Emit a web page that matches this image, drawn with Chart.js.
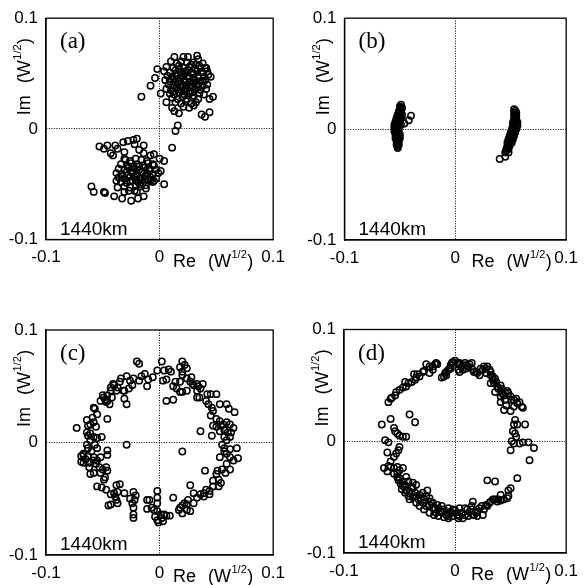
<!DOCTYPE html>
<html>
<head>
<meta charset="utf-8">
<script src="https://cdn.jsdelivr.net/npm/chart.js@4.4.0/dist/chart.umd.min.js"></script>
<style>
  html, body { margin: 0; padding: 0; background: #fff; }
  #wrap { position: relative; width: 586px; height: 585px; overflow: hidden; }
  canvas { position: absolute; }
</style>
</head>
<body>
<div id="wrap">
  <canvas id="pa" width="293" height="292" style="left:0;top:0"></canvas>
  <canvas id="pb" width="293" height="292" style="left:293px;top:0"></canvas>
  <canvas id="pc" width="293" height="293" style="left:0;top:292px"></canvas>
  <canvas id="pd" width="293" height="293" style="left:293px;top:292px"></canvas>
</div>
<script>
// axis ticks (both axes, all panels)
const tickValues = [-0.1, 0, 0.1];
const tickLabels = ["-0.1", "0", "0.1"];
const panelTags = ["(a)", "(b)", "(c)", "(d)"];
const distanceNote = "1440km";

// constellation points [Re, Im] in W^1/2
const panelA = [
  [-0.016, 0.029], [-0.008, 0.039], [-0.004, 0.046], [-0.002, 0.054], [0.001, 0.032], [0.006, 0.024],
  [0.011, 0.019], [0.013, 0.016], [0.017, 0.014], [0.037, 0.013], [0.040, 0.011], [0.044, 0.015],
  [0.047, 0.029], [0.044, 0.027], [0.016, 0.003], [0.014, -0.002], [0.011, -0.017], [0.041, 0.055],
  [0.036, 0.055], [0.045, 0.047], [0.013, 0.065], [0.021, 0.065], [0.025, 0.065], [0.033, 0.066],
  [0.034, 0.063], [0.030, 0.060],
  [0.010, 0.061], [0.015, 0.059], [0.019, 0.061], [0.024, 0.060], [0.028, 0.058], [0.038, 0.059],
  [0.006, 0.056], [0.012, 0.055], [0.017, 0.057], [0.021, 0.055], [0.026, 0.056], [0.031, 0.054], [0.035, 0.057], [0.040, 0.055],
  [0.004, 0.052], [0.009, 0.051], [0.014, 0.053], [0.019, 0.051], [0.023, 0.052], [0.028, 0.050], [0.033, 0.052], [0.037, 0.051], [0.042, 0.052],
  [0.007, 0.048], [0.011, 0.047], [0.016, 0.049], [0.020, 0.047], [0.025, 0.048], [0.030, 0.046], [0.034, 0.048], [0.039, 0.047], [0.043, 0.049],
  [0.005, 0.044], [0.009, 0.043], [0.013, 0.045], [0.018, 0.043], [0.022, 0.044], [0.027, 0.042], [0.031, 0.044], [0.036, 0.043], [0.040, 0.044],
  [0.008, 0.040], [0.012, 0.039], [0.016, 0.041], [0.020, 0.039], [0.024, 0.040], [0.029, 0.038], [0.033, 0.040], [0.038, 0.039], [0.042, 0.040],
  [0.006, 0.036], [0.010, 0.035], [0.015, 0.037], [0.019, 0.035], [0.023, 0.036], [0.027, 0.034], [0.032, 0.036], [0.036, 0.035], [0.041, 0.036],
  [0.009, 0.032], [0.013, 0.031], [0.017, 0.033], [0.022, 0.031], [0.026, 0.032], [0.030, 0.030], [0.035, 0.032], [0.039, 0.031],
  [0.011, 0.028], [0.016, 0.027], [0.020, 0.029], [0.024, 0.027], [0.029, 0.028], [0.034, 0.027],
  [0.014, 0.024], [0.019, 0.023], [0.023, 0.025], [0.028, 0.023], [0.032, 0.024],
  [0.021, 0.020], [0.026, 0.019], [0.030, 0.021],
  [0.014, 0.050], [0.018, 0.046], [0.022, 0.050], [0.026, 0.046], [0.030, 0.050], [0.014, 0.042], [0.018, 0.038],
  [0.022, 0.042], [0.026, 0.038], [0.030, 0.042], [0.034, 0.046], [0.034, 0.038], [0.017, 0.054], [0.025, 0.053],
  [0.021, 0.034], [0.029, 0.033], [0.012, 0.034], [0.010, 0.045], [0.038, 0.043], [0.032, 0.058],
  // lower cluster
  [-0.053, -0.016], [-0.049, -0.018], [-0.046, -0.015], [-0.039, -0.015], [-0.032, -0.012], [-0.028, -0.011],
  [-0.023, -0.010], [-0.020, -0.009], [-0.022, -0.014], [-0.014, -0.015], [-0.018, -0.019], [-0.031, -0.021],
  [-0.037, -0.018], [-0.043, -0.022], [-0.041, -0.024], [-0.031, -0.027], [-0.014, -0.022], [-0.008, -0.024],
  [-0.005, -0.023], [0.000, -0.027], [0.004, -0.029], [-0.006, -0.032], [0.001, -0.038], [0.004, -0.050],
  [-0.005, -0.047], [-0.060, -0.052], [-0.058, -0.057], [-0.049, -0.057], [-0.048, -0.058], [-0.040, -0.061],
  [-0.033, -0.063], [-0.025, -0.065], [-0.019, -0.063], [-0.014, -0.061], [-0.012, -0.054], [-0.022, -0.056],
  [-0.031, -0.057], [-0.037, -0.053], [-0.038, -0.047],
  [-0.030, -0.028], [-0.026, -0.029], [-0.021, -0.027], [-0.016, -0.028], [-0.011, -0.029],
  [-0.034, -0.032], [-0.029, -0.033], [-0.025, -0.031], [-0.020, -0.032], [-0.015, -0.033], [-0.010, -0.031], [-0.005, -0.033],
  [-0.036, -0.036], [-0.031, -0.037], [-0.027, -0.035], [-0.022, -0.036], [-0.018, -0.037], [-0.013, -0.035], [-0.009, -0.036], [-0.003, -0.037],
  [-0.038, -0.040], [-0.033, -0.041], [-0.029, -0.039], [-0.024, -0.040], [-0.020, -0.041], [-0.015, -0.039], [-0.011, -0.040], [-0.006, -0.041], [-0.001, -0.040],
  [-0.036, -0.044], [-0.031, -0.045], [-0.026, -0.043], [-0.022, -0.044], [-0.017, -0.045], [-0.013, -0.043], [-0.008, -0.044], [-0.003, -0.045],
  [-0.034, -0.048], [-0.029, -0.049], [-0.024, -0.047], [-0.019, -0.048], [-0.015, -0.049], [-0.010, -0.047], [-0.006, -0.048],
  [-0.031, -0.052], [-0.026, -0.053], [-0.021, -0.051], [-0.017, -0.052], [-0.012, -0.051],
  [-0.027, -0.056], [-0.020, -0.057],
  [-0.028, -0.042], [-0.024, -0.038], [-0.020, -0.043], [-0.016, -0.039], [-0.012, -0.042], [-0.028, -0.034],
  [-0.023, -0.034], [-0.018, -0.034], [-0.026, -0.047], [-0.021, -0.046], [-0.017, -0.050], [-0.013, -0.046],
  [-0.033, -0.043], [-0.009, -0.038], [-0.008, -0.046]
];

const panelB = [
  [-0.049, 0.022], [-0.050, 0.019], [-0.048, 0.019], [-0.051, 0.016], [-0.049, 0.016],
  [-0.052, 0.013], [-0.050, 0.013], [-0.048, 0.013], [-0.053, 0.010], [-0.051, 0.010], [-0.049, 0.010],
  [-0.054, 0.007], [-0.052, 0.007], [-0.050, 0.007], [-0.055, 0.004], [-0.053, 0.004], [-0.051, 0.004], [-0.049, 0.004],
  [-0.055, 0.001], [-0.053, 0.001], [-0.051, 0.001], [-0.055, -0.002], [-0.053, -0.002], [-0.051, -0.002],
  [-0.054, -0.005], [-0.052, -0.005], [-0.050, -0.005], [-0.054, -0.008], [-0.052, -0.008], [-0.050, -0.008],
  [-0.053, -0.011], [-0.051, -0.011], [-0.053, -0.014], [-0.051, -0.014], [-0.052, -0.017],
  [-0.050, 0.0205], [-0.049, 0.0175], [-0.051, 0.0145], [-0.049, 0.0115], [-0.052, 0.0115], [-0.050, 0.0085],
  [-0.053, 0.0085], [-0.052, 0.0055], [-0.054, 0.0025], [-0.052, 0.0025], [-0.054, -0.0005], [-0.052, -0.0005],
  [-0.054, -0.0035], [-0.052, -0.0035], [-0.053, -0.0065], [-0.051, -0.0065], [-0.052, -0.0095], [-0.052, -0.0125],
  [-0.052, -0.0155],
  [-0.040, 0.012], [-0.042, 0.008], [-0.046, 0.005],
  [0.053, 0.018], [0.053, 0.015], [0.055, 0.015], [0.053, 0.012], [0.055, 0.012], [0.053, 0.009], [0.055, 0.009],
  [0.052, 0.006], [0.054, 0.006], [0.056, 0.006], [0.052, 0.003], [0.054, 0.003], [0.056, 0.003],
  [0.051, 0.000], [0.053, 0.000], [0.055, 0.000], [0.050, -0.003], [0.052, -0.003], [0.054, -0.003],
  [0.049, -0.006], [0.051, -0.006], [0.053, -0.006], [0.048, -0.009], [0.050, -0.009], [0.052, -0.009],
  [0.047, -0.012], [0.049, -0.012], [0.051, -0.012], [0.047, -0.015], [0.049, -0.015],
  [0.046, -0.018], [0.048, -0.018], [0.045, -0.021], [0.048, -0.021], [0.045, -0.025], [0.040, -0.027],
  [0.054, 0.0165], [0.054, 0.0135], [0.054, 0.0105], [0.053, 0.0075], [0.055, 0.0075], [0.053, 0.0045],
  [0.055, 0.0045], [0.052, 0.0015], [0.054, 0.0015], [0.051, -0.0015], [0.053, -0.0015], [0.050, -0.0045],
  [0.052, -0.0045], [0.049, -0.0075], [0.051, -0.0075], [0.048, -0.0105], [0.050, -0.0105], [0.048, -0.0135],
  [0.047, -0.0165], [0.046, -0.0195]
];

const panelC = [
  [0.002, 0.072], [-0.020, 0.072], [-0.018, 0.070], [-0.002, 0.064], [0.004, 0.064], [0.008, 0.065], [0.010, 0.063],
  [0.003, 0.055], [0.006, 0.056], [-0.006, 0.058], [-0.010, 0.056], [-0.013, 0.061], [-0.016, 0.059], [-0.018, 0.055],
  [-0.023, 0.057], [-0.026, 0.055], [-0.029, 0.059], [-0.024, 0.051], [-0.027, 0.048], [-0.034, 0.057], [-0.035, 0.054],
  [-0.037, 0.049], [-0.040, 0.051], [-0.041, 0.052], [-0.043, 0.049], [-0.043, 0.046], [-0.038, 0.046], [-0.032, 0.046],
  [-0.031, 0.046], [-0.046, 0.037], [-0.048, 0.038], [-0.047, 0.036], [-0.044, 0.034], [-0.046, 0.042], [-0.042, 0.040],
  [-0.031, 0.039], [-0.029, 0.034], [-0.011, 0.050], [0.006, 0.037], [0.012, 0.038],
  [0.020, 0.072], [0.022, 0.069], [0.018, 0.067], [0.024, 0.066], [0.020, 0.063], [0.020, 0.060], [0.024, 0.057],
  [0.028, 0.058], [0.027, 0.054], [0.029, 0.052], [0.030, 0.051], [0.033, 0.052], [0.034, 0.050], [0.036, 0.048],
  [0.038, 0.052], [0.033, 0.046], [0.033, 0.040], [0.035, 0.040], [0.012, 0.050], [0.015, 0.048], [0.018, 0.045],
  [0.020, 0.045], [0.024, 0.046], [0.014, 0.054], [0.018, 0.054],
  [0.042, 0.043], [0.045, 0.043], [0.050, 0.043], [0.041, 0.037], [0.043, 0.034], [0.046, 0.031], [0.047, 0.028],
  [0.053, 0.034], [0.059, 0.034], [0.061, 0.030], [0.066, 0.027], [0.045, 0.024], [0.050, 0.021], [0.053, 0.019],
  [0.054, 0.015], [0.056, 0.016], [0.059, 0.018], [0.062, 0.016], [0.065, 0.013], [0.047, 0.015], [0.050, 0.014],
  [0.053, 0.010], [0.060, 0.009], [0.063, 0.009], [0.057, 0.011], [0.036, 0.010], [0.046, 0.006], [0.057, 0.005],
  [0.062, 0.005], [0.059, 0.002], [0.055, -0.002], [0.057, -0.005], [0.057, -0.008], [0.062, -0.006], [0.068, -0.005],
  [0.069, -0.014], [0.059, -0.010], [0.053, -0.013], [0.062, -0.013], [0.059, -0.019], [0.065, -0.016], [0.062, -0.024],
  [0.058, -0.027], [0.055, -0.024], [0.051, -0.025], [0.050, -0.028], [0.052, -0.033], [0.054, -0.036], [0.047, -0.034],
  [0.047, -0.039], [0.052, -0.039], [0.040, -0.025], [0.020, -0.008],
  [0.044, -0.043], [0.041, -0.042], [0.039, -0.045], [0.039, -0.048], [0.044, -0.046], [0.036, -0.046], [0.030, -0.045],
  [0.027, -0.038], [0.033, -0.049], [0.030, -0.054], [0.025, -0.051], [0.024, -0.055], [0.022, -0.054], [0.020, -0.056],
  [0.018, -0.058], [0.017, -0.060], [0.024, -0.060], [0.020, -0.063], [0.027, -0.061], [0.012, -0.049], [0.009, -0.065],
  [0.006, -0.065], [0.004, -0.064], [0.002, -0.067], [0.001, -0.064], [-0.002, -0.061], [-0.005, -0.060], [-0.004, -0.066],
  [-0.002, -0.069], [0.003, -0.070], [-0.001, -0.071], [-0.007, -0.058], [-0.009, -0.051], [-0.011, -0.051], [-0.011, -0.059],
  [-0.002, -0.054], [-0.002, -0.043], [-0.002, -0.049],
  [-0.023, -0.044], [-0.021, -0.047], [-0.022, -0.051], [-0.026, -0.050], [-0.024, -0.054], [-0.023, -0.058], [-0.023, -0.064],
  [-0.023, -0.067], [-0.031, -0.045], [-0.035, -0.037], [-0.038, -0.038], [-0.037, -0.044], [-0.040, -0.045], [-0.039, -0.048],
  [-0.038, -0.051], [-0.043, -0.055], [-0.045, -0.056], [-0.037, -0.054], [-0.043, -0.046], [-0.047, -0.042], [-0.051, -0.040],
  [-0.049, -0.033], [-0.055, -0.039], [-0.052, -0.027], [-0.050, -0.024], [-0.047, -0.022], [-0.046, -0.025], [-0.048, -0.031],
  [-0.058, -0.027], [-0.061, -0.028], [-0.062, -0.022], [-0.067, -0.018], [-0.069, -0.017], [-0.065, -0.015], [-0.063, -0.012],
  [-0.067, -0.011], [-0.058, -0.016], [-0.055, -0.016], [-0.052, -0.013], [-0.056, -0.019], [-0.053, -0.022], [-0.058, -0.013],
  [-0.046, -0.007], [-0.046, -0.011],
  [-0.073, 0.013], [-0.064, 0.020], [-0.063, 0.015], [-0.061, 0.016], [-0.058, 0.018], [-0.059, 0.022], [-0.056, 0.014],
  [-0.064, 0.009], [-0.063, 0.006], [-0.061, 0.008], [-0.058, 0.005], [-0.055, 0.004], [-0.051, 0.005], [-0.061, 0.002],
  [-0.064, -0.002], [-0.057, -0.002], [-0.055, -0.005], [-0.063, -0.005], [-0.060, -0.008], [-0.067, -0.010], [-0.069, -0.012],
  [-0.062, -0.018], [-0.029, -0.002], [-0.046, 0.021], [-0.055, 0.025], [-0.057, 0.030], [-0.058, 0.031], [-0.052, 0.037],
  [-0.049, 0.040], [-0.050, 0.042]
];

const panelD = [
  [-0.060, 0.035], [-0.058, 0.038], [-0.057, 0.039], [-0.054, 0.041], [-0.053, 0.044], [-0.050, 0.046], [-0.047, 0.048],
  [-0.044, 0.049], [-0.045, 0.053], [-0.042, 0.052], [-0.039, 0.053], [-0.036, 0.055], [-0.035, 0.057], [-0.037, 0.060],
  [-0.034, 0.060], [-0.032, 0.058], [-0.029, 0.062], [-0.028, 0.063], [-0.026, 0.069], [-0.023, 0.061], [-0.023, 0.067],
  [-0.020, 0.067], [-0.018, 0.069], [-0.017, 0.070], [-0.016, 0.069], [-0.020, 0.064],
  [-0.010, 0.058], [-0.009, 0.061], [-0.008, 0.062], [-0.006, 0.064], [-0.005, 0.065], [-0.004, 0.068], [-0.003, 0.070],
  [-0.002, 0.071], [0.000, 0.072], [0.002, 0.070], [0.003, 0.069], [0.004, 0.070], [0.006, 0.067], [0.007, 0.068],
  [0.009, 0.070], [0.010, 0.068], [0.012, 0.067], [0.013, 0.069], [0.015, 0.070], [0.016, 0.064], [0.017, 0.062],
  [0.019, 0.062], [0.020, 0.061], [0.022, 0.059], [0.023, 0.065], [0.025, 0.064], [0.026, 0.067], [0.028, 0.065],
  [0.029, 0.067], [0.031, 0.064], [0.032, 0.062], [0.032, 0.059], [0.034, 0.058], [0.034, 0.055], [0.035, 0.052],
  [0.036, 0.056], [0.038, 0.049], [0.039, 0.047], [0.041, 0.050], [0.042, 0.043], [0.044, 0.041], [0.045, 0.044],
  [0.047, 0.045], [0.048, 0.043], [0.050, 0.040], [0.051, 0.037], [0.053, 0.037], [0.055, 0.038], [0.056, 0.034],
  [0.058, 0.035], [0.060, 0.031], [0.061, 0.030], [0.046, 0.032], [0.044, 0.028], [0.050, 0.027], [0.053, 0.031],
  [0.041, 0.035], [0.041, 0.040], [0.045, 0.037], [0.036, 0.044], [0.042, 0.047], [0.037, 0.053], [0.032, 0.052],
  [0.028, 0.061], [0.003, 0.064], [0.004, 0.062], [-0.004, 0.065], [0.007, 0.064], [-0.012, 0.057], [-0.008, 0.059],
  [0.010, 0.065],
  [0.054, 0.019], [0.053, 0.015], [0.052, 0.009], [0.054, 0.007], [0.055, 0.004], [0.056, 0.015], [0.063, 0.015],
  [0.051, 0.000], [0.053, -0.002], [0.050, -0.008], [0.058, -0.002], [0.061, -0.001], [0.066, -0.001], [0.071, -0.006],
  [0.067, -0.017], [0.056, -0.033], [0.048, -0.044], [0.050, -0.042], [0.041, -0.048], [0.038, -0.054], [0.029, -0.035],
  [0.036, -0.036],
  [-0.066, 0.015], [-0.058, 0.020], [-0.041, 0.024], [-0.036, 0.017], [-0.044, 0.004], [-0.055, 0.012], [-0.054, 0.009],
  [-0.052, 0.007], [-0.050, 0.005], [-0.047, 0.004], [-0.063, 0.001], [-0.060, -0.001], [-0.050, -0.005], [-0.051, -0.008],
  [-0.053, -0.011], [-0.061, -0.010], [-0.055, -0.014], [-0.058, -0.018], [-0.060, -0.022], [-0.064, -0.024], [-0.061, -0.027],
  [-0.058, -0.023], [-0.055, -0.024], [-0.052, -0.023], [-0.050, -0.026], [-0.047, -0.024],
  [-0.055, -0.029], [-0.052, -0.032], [-0.051, -0.035], [-0.050, -0.033], [-0.047, -0.036], [-0.049, -0.038], [-0.045, -0.039],
  [-0.042, -0.036], [-0.044, -0.044], [-0.045, -0.046], [-0.041, -0.045], [-0.039, -0.041], [-0.038, -0.042], [-0.036, -0.046],
  [-0.035, -0.049], [-0.033, -0.052], [-0.032, -0.048], [-0.031, -0.051], [-0.028, -0.052], [-0.025, -0.044], [-0.029, -0.055],
  [-0.026, -0.058], [-0.023, -0.057], [-0.022, -0.054], [-0.020, -0.060], [-0.018, -0.061], [-0.017, -0.064], [-0.015, -0.060],
  [-0.013, -0.063], [-0.012, -0.064], [-0.010, -0.061], [-0.008, -0.066], [-0.006, -0.067], [-0.004, -0.063], [-0.003, -0.064],
  [-0.002, -0.067], [0.000, -0.062], [0.002, -0.066], [0.004, -0.067], [0.006, -0.064], [0.009, -0.066], [0.011, -0.061],
  [0.013, -0.063], [0.015, -0.061], [0.016, -0.054], [0.017, -0.066], [0.019, -0.064], [0.020, -0.063], [0.022, -0.060],
  [0.024, -0.058], [0.026, -0.061], [0.028, -0.057], [0.029, -0.058], [0.031, -0.055], [0.032, -0.054], [0.034, -0.052],
  [0.035, -0.052], [0.037, -0.052], [0.039, -0.052], [0.041, -0.053], [0.044, -0.052], [0.047, -0.051], [0.048, -0.049],
  [0.020, -0.067], [-0.041, -0.052], [-0.035, -0.055], [-0.032, -0.058], [-0.028, -0.061], [-0.023, -0.064], [-0.019, -0.066],
  [-0.015, -0.067], [-0.010, -0.068], [-0.006, -0.069], [0.003, -0.069], [0.007, -0.069], [0.012, -0.067], [0.016, -0.066],
  [0.025, -0.066], [-0.038, -0.050], [-0.042, -0.049], [-0.047, -0.040], [-0.048, -0.043], [-0.044, -0.032], [-0.052, -0.029],
  [-0.038, -0.037], [-0.035, -0.039], [-0.029, -0.046], [-0.026, -0.049], [-0.023, -0.051], [-0.020, -0.055], [-0.016, -0.057],
  [-0.012, -0.058], [-0.006, -0.060], [-0.002, -0.061], [0.004, -0.060], [0.009, -0.060], [0.015, -0.058]
];

// where each panel's plot frame sits inside its canvas
const panels = [
  { id: "pa", points: panelA, tag: panelTags[0], pad: { top: 13, right: 19 }, yWidth: 46, xHeight: 52.5 },
  { id: "pb", points: panelB, tag: panelTags[1], pad: { top: 14.5, right: 14.5 }, yWidth: 51.5, xHeight: 52 },
  { id: "pc", points: panelC, tag: panelTags[2], pad: { top: 38, right: 19 }, yWidth: 46, xHeight: 30 },
  { id: "pd", points: panelD, tag: panelTags[3], pad: { top: 37.5, right: 15 }, yWidth: 51, xHeight: 32 },
];

const SANS = '"Liberation Sans", Arial, Helvetica, sans-serif';
Chart.defaults.font.family = SANS;
Chart.defaults.color = "#000";

// "Re  (W^1/2)" style label starting at x, baseline y
function drawUnitLabel(ctx, name, x, y) {
  ctx.font = "18px " + SANS;
  ctx.fillText(name, x, y);
  x += ctx.measureText(name).width + 12;
  ctx.fillText("(W", x, y);
  x += ctx.measureText("(W").width + 0.5;
  ctx.font = "11px " + SANS;
  ctx.fillText("1/2", x, y - 9);
  x += ctx.measureText("1/2").width + 0.5;
  ctx.font = "18px " + SANS;
  ctx.fillText(")", x, y);
}

const panelDecor = {
  id: "panelDecor",
  afterDraw(chart, args, opts) {
    const { ctx, chartArea: a } = chart;
    ctx.save();
    ctx.strokeStyle = "#000";
    ctx.lineWidth = 1.3;
    ctx.strokeRect(a.left, a.top, a.right - a.left, a.bottom - a.top);

    ctx.fillStyle = "#000";
    ctx.textAlign = "left";
    ctx.textBaseline = "alphabetic";
    ctx.font = '23px "Liberation Serif", "Times New Roman", serif';
    ctx.fillText(opts.tag, a.left + 14, a.top + 30);
    ctx.font = "19px " + SANS;
    ctx.fillText(distanceNote, a.left + 14, a.bottom - 5);

    drawUnitLabel(ctx, "Re", a.left + 127, a.bottom + 27);

    ctx.translate(a.left - 16, a.top + 97);
    ctx.rotate(-Math.PI / 2);
    drawUnitLabel(ctx, "Im", 0, 0);
    ctx.restore();
  },
};

function axis(fitFn) {
  return {
    type: "linear",
    min: -0.1,
    max: 0.1,
    afterBuildTicks: (s) => {
      s.ticks = tickValues.map((v) => ({ value: v }));
    },
    ticks: {
      autoSkip: false,
      maxRotation: 0,
      padding: 8,
      color: "#000",
      font: { size: 17 },
      callback: (v) => tickLabels[tickValues.indexOf(v)],
    },
    grid: {
      drawTicks: false,
      lineWidth: 1,
      color: (c) => (c.tick && Math.abs(c.tick.value) < 1e-9 ? "#000" : "rgba(0,0,0,0)"),
    },
    border: { display: true, color: "#000", width: 1.3, dash: [1, 1.5] },
    afterFit: fitFn,
  };
}

panels.forEach((p) => {
  const ctx = document.getElementById(p.id).getContext("2d");
  new Chart(ctx, {
    type: "scatter",
    data: {
      datasets: [
        {
          data: p.points.map(([re, im]) => ({ x: re, y: im })),
          pointStyle: "circle",
          pointRadius: 3.2,
          pointBorderWidth: 1.5,
          pointBorderColor: "#000",
          pointBackgroundColor: "rgba(0,0,0,0)",
          showLine: false,
        },
      ],
    },
    options: {
      responsive: false,
      animation: false,
      devicePixelRatio: 1,
      layout: { padding: { top: p.pad.top, right: p.pad.right, left: 0, bottom: 0 } },
      plugins: {
        legend: { display: false },
        tooltip: { enabled: false },
        panelDecor: { tag: p.tag },
      },
      scales: {
        x: axis((s) => { s.height = p.xHeight; }),
        y: axis((s) => { s.width = p.yWidth; }),
      },
    },
    plugins: [panelDecor],
  });
});
</script>
</body>
</html>
